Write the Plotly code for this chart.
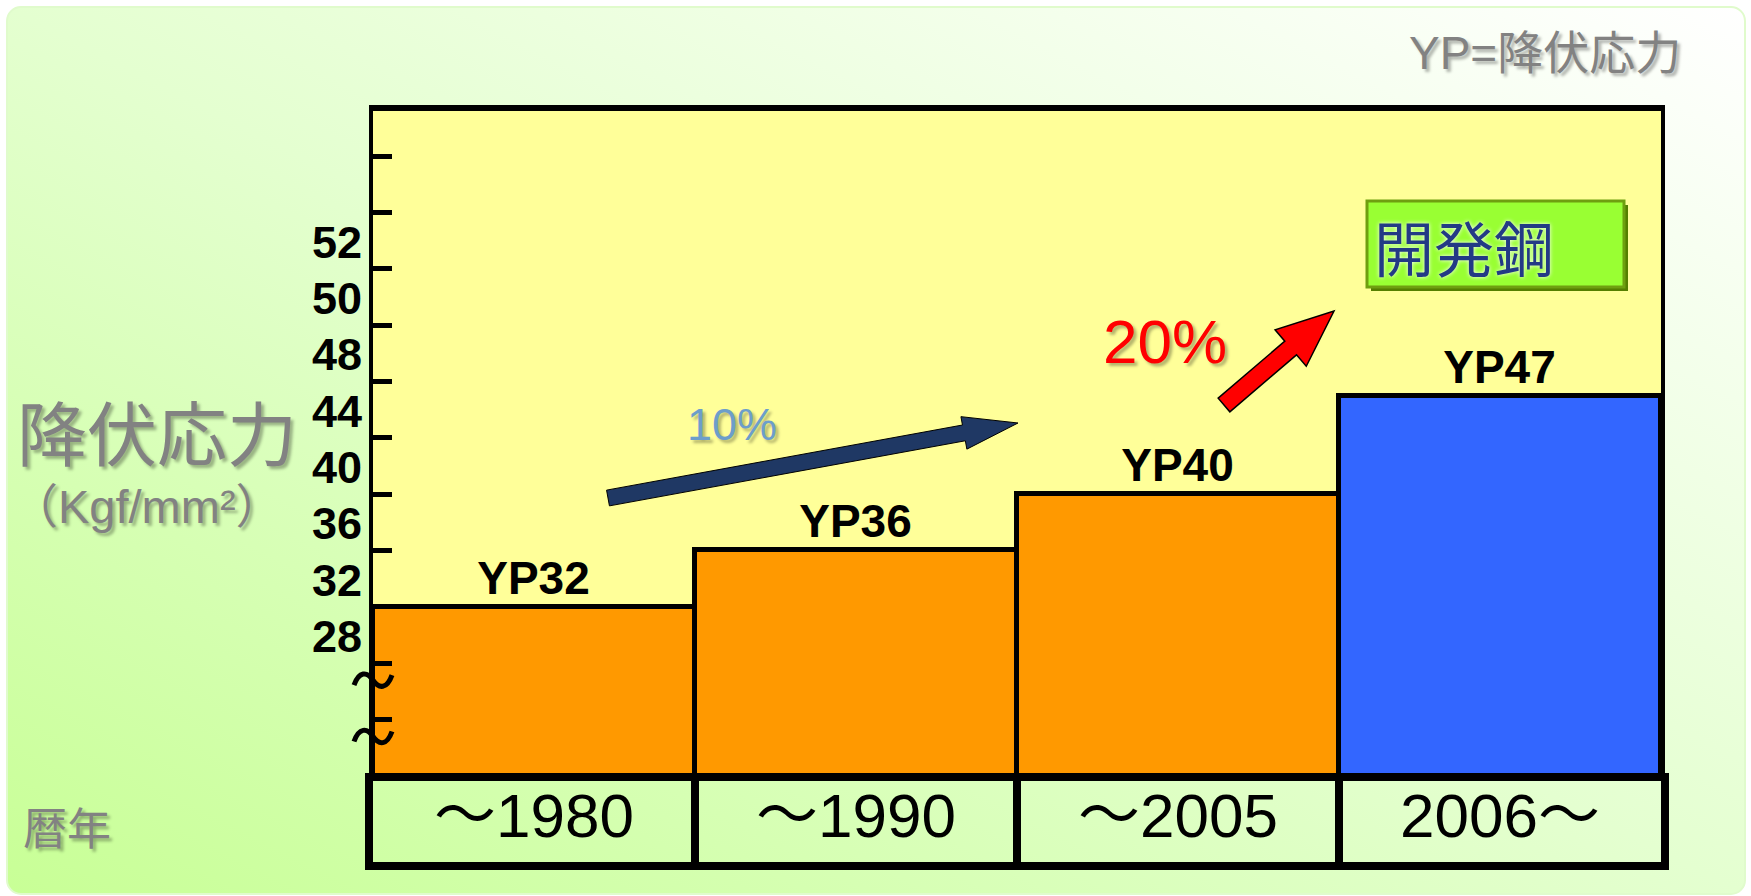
import base64
import math
import plotly.graph_objects as go

W, H = 1751, 896
FONT = "Liberation Sans, Arial, Noto Sans CJK JP, sans-serif"
CJK_FONT = "Noto Sans CJK JP, Liberation Sans, sans-serif"

# ---- data -------------------------------------------------------------
periods = ["～1980", "～1990", "～2005", "2006～"]
yield_points = [32, 36, 40, 47]
bar_colors = ["#FF9900", "#FF9900", "#FF9900", "#3366FF"]

y_tick_values = list(range(24, 65, 4))
y_tick_labels = ["", "28", "32", "36", "40", "44", "48", "50", "52", "", ""]
break_ticks = [24, 28]
y_range = [20.2, 67.2]

# ---- page geometry (pixels) -------------------------------------------
PLOT_L, PLOT_R, PLOT_T, PLOT_B = 373, 1661, 111, 773
TABLE_T, TABLE_B = 781, 862


def px(x):
    return x / W


def py(y):
    return 1 - y / H


def value_to_px(v):
    frac = (v - y_range[0]) / (y_range[1] - y_range[0])
    return PLOT_B - frac * (PLOT_B - PLOT_T)


def block_arrow(tail, tip, shaft_w, head_w, head_len):
    """SVG path (paper coords) of a filled block arrow given in pixels."""
    dx, dy = tip[0] - tail[0], tip[1] - tail[1]
    n = math.hypot(dx, dy)
    ux, uy = dx / n, dy / n
    nx, ny = -uy, ux
    bx, by = tip[0] - ux * head_len, tip[1] - uy * head_len
    pts = [
        (tail[0] + nx * shaft_w / 2, tail[1] + ny * shaft_w / 2),
        (bx + nx * shaft_w / 2, by + ny * shaft_w / 2),
        (bx + nx * head_w / 2, by + ny * head_w / 2),
        tip,
        (bx - nx * head_w / 2, by - ny * head_w / 2),
        (bx - nx * shaft_w / 2, by - ny * shaft_w / 2),
        (tail[0] - nx * shaft_w / 2, tail[1] - ny * shaft_w / 2),
    ]
    return "M " + " L ".join(f"{px(x):.5f},{py(y):.5f}" for x, y in pts) + " Z"


def squiggle(cx, cy, half=19, amp=9):
    """Axis-break tilde centred on (cx, cy) in pixels."""
    p = [
        (cx - half, cy + 5),
        (cx - half + 5, cy - amp), (cx - 6, cy - amp), (cx, cy),
        (cx + 6, cy + amp), (cx + half - 5, cy + amp), (cx + half, cy - 5),
    ]
    s = [f"{px(x):.5f},{py(y):.5f}" for x, y in p]
    return f"M {s[0]} C {s[1]} {s[2]} {s[3]} C {s[4]} {s[5]} {s[6]}"


# ---- background panel -------------------------------------------------
panel_svg = f"""<svg xmlns="http://www.w3.org/2000/svg" width="{W}" height="{H}" viewBox="0 0 {W} {H}">
<defs><linearGradient id="g" x1="0" y1="1" x2="1" y2="0">
<stop offset="0" stop-color="#c8ff96"/>
<stop offset="0.5" stop-color="#e4ffd0"/>
<stop offset="1" stop-color="#ffffff"/>
</linearGradient></defs>
<rect x="7" y="7" width="1738" height="887" rx="14" ry="14" fill="url(#g)" stroke="#e0fbcc" stroke-width="2"/>
</svg>"""
panel_uri = "data:image/svg+xml;base64," + base64.b64encode(panel_svg.encode()).decode()

# ---- traces -----------------------------------------------------------
fig = go.Figure()

fig.add_trace(go.Bar(
    x=periods, y=yield_points,
    marker=dict(color=bar_colors, line=dict(color="black", width=5)),
    texttemplate="YP%{y}", textposition="outside", cliponaxis=False,
    textfont=dict(family=FONT, size=46, color="black", weight="bold"),
    xaxis="x", yaxis="y", hoverinfo="skip",
))

fig.add_trace(go.Scatter(
    x=periods, y=[0.5] * len(periods), mode="text", text=periods,
    textfont=dict(family=FONT, size=62, color="black"),
    xaxis="x2", yaxis="y2", hoverinfo="skip",
))

# ---- shapes -----------------------------------------------------------
shapes = [
    dict(type="rect", xref="x domain", yref="y domain", x0=0, x1=1, y0=0, y1=1,
         fillcolor="#FFFF99", line_width=0, layer="below"),
    # 10% trend arrow
    dict(type="path", xref="paper", yref="paper",
         path=block_arrow((608, 498), (1018, 423), 16, 33, 55),
         fillcolor="#1f3864", line=dict(color="black", width=1)),
    # 20% arrow
    dict(type="path", xref="paper", yref="paper",
         path=block_arrow((1224, 405), (1334, 311), 18, 48, 57),
         fillcolor="#ff0000", line=dict(color="black", width=1.5)),
    # label box shadow + box
    dict(type="rect", xref="paper", yref="paper",
         x0=px(1371), x1=px(1628), y0=py(291), y1=py(205),
         fillcolor="#557f00", line_width=0),
    dict(type="rect", xref="paper", yref="paper",
         x0=px(1367), x1=px(1624), y0=py(287), y1=py(201),
         fillcolor="#99FF33", line=dict(color="#6f9f10", width=3)),
]
for v in break_ticks:
    shapes.append(dict(type="path", xref="paper", yref="paper",
                       path=squiggle(PLOT_L, value_to_px(v) + 17),
                       line=dict(color="black", width=5)))

# ---- annotations ------------------------------------------------------
gray_shadow = "3px 3px 3px rgba(0,0,0,0.30)"
annotations = [
    dict(text="YP=降伏応力", x=px(1683), y=py(53), xanchor="right", yanchor="middle",
         font=dict(family=FONT, size=46, color="#828282", shadow=gray_shadow)),
    dict(text="降伏応力", x=px(157), y=py(430), xanchor="center", yanchor="middle",
         font=dict(family=CJK_FONT, size=70, color="#828282", shadow=gray_shadow)),
    dict(text="（Kgf/mm²）", x=px(147), y=py(506), xanchor="center", yanchor="middle",
         font=dict(family=FONT, size=47, color="#828282", shadow=gray_shadow)),
    dict(text="暦年", x=px(67), y=py(826), xanchor="center", yanchor="middle",
         font=dict(family=CJK_FONT, size=44, color="#828282", shadow=gray_shadow)),
    dict(text="10%", x=px(732), y=py(424), xanchor="center", yanchor="middle",
         font=dict(family=FONT, size=45, color="#6d9eca", shadow=gray_shadow)),
    dict(text="20%", x=px(1165), y=py(341), xanchor="center", yanchor="middle",
         font=dict(family=FONT, size=62, color="#ff0000", shadow=gray_shadow)),
    dict(text="開発鋼", x=px(1372), y=py(245), xanchor="left", yanchor="middle",
         font=dict(family=CJK_FONT, size=60, color="#233a85",
                   shadow="0px 0px 4px #ffffff")),
]
for a in annotations:
    a.update(xref="paper", yref="paper", showarrow=False)

# ---- layout -----------------------------------------------------------
fig.update_layout(
    width=W, height=H,
    margin=dict(l=0, r=0, t=0, b=0),
    paper_bgcolor="white", plot_bgcolor="rgba(0,0,0,0)",
    showlegend=False, bargap=0,
    xaxis=dict(domain=[px(PLOT_L), px(PLOT_R)], anchor="y", range=[-0.5, 3.5],
               type="category", showline=True, mirror=True, linewidth=6,
               linecolor="black", showticklabels=False, ticks="", showgrid=False),
    yaxis=dict(domain=[py(PLOT_B), py(PLOT_T)], anchor="x", range=y_range,
               tickmode="array", tickvals=y_tick_values, ticktext=y_tick_labels,
               ticks="inside", ticklen=19, tickwidth=5, tickcolor="black",
               showline=True, linewidth=4, linecolor="black", mirror=True,
               showgrid=False, zeroline=False,
               tickfont=dict(family=FONT, size=45, color="black", weight="bold"),
               ticklabelshift=-27, ticklabelstandoff=-2),
    xaxis2=dict(domain=[px(PLOT_L), px(PLOT_R)], anchor="y2", range=[-0.5, 3.5],
                type="category", tickson="boundaries", showgrid=True,
                gridcolor="black", gridwidth=8, showline=True, mirror=True,
                linewidth=8, linecolor="black", showticklabels=False, ticks=""),
    yaxis2=dict(domain=[py(TABLE_B), py(TABLE_T)], anchor="x2", range=[0, 1],
                showline=True, mirror=True, linewidth=8, linecolor="black",
                showticklabels=False, showgrid=False, zeroline=False, ticks=""),
    shapes=shapes,
    annotations=annotations,
    images=[dict(source=panel_uri, xref="paper", yref="paper", x=0, y=1,
                 sizex=1, sizey=1, xanchor="left", yanchor="top",
                 sizing="stretch", layer="below")],
)

fig.write_html("out.html")
